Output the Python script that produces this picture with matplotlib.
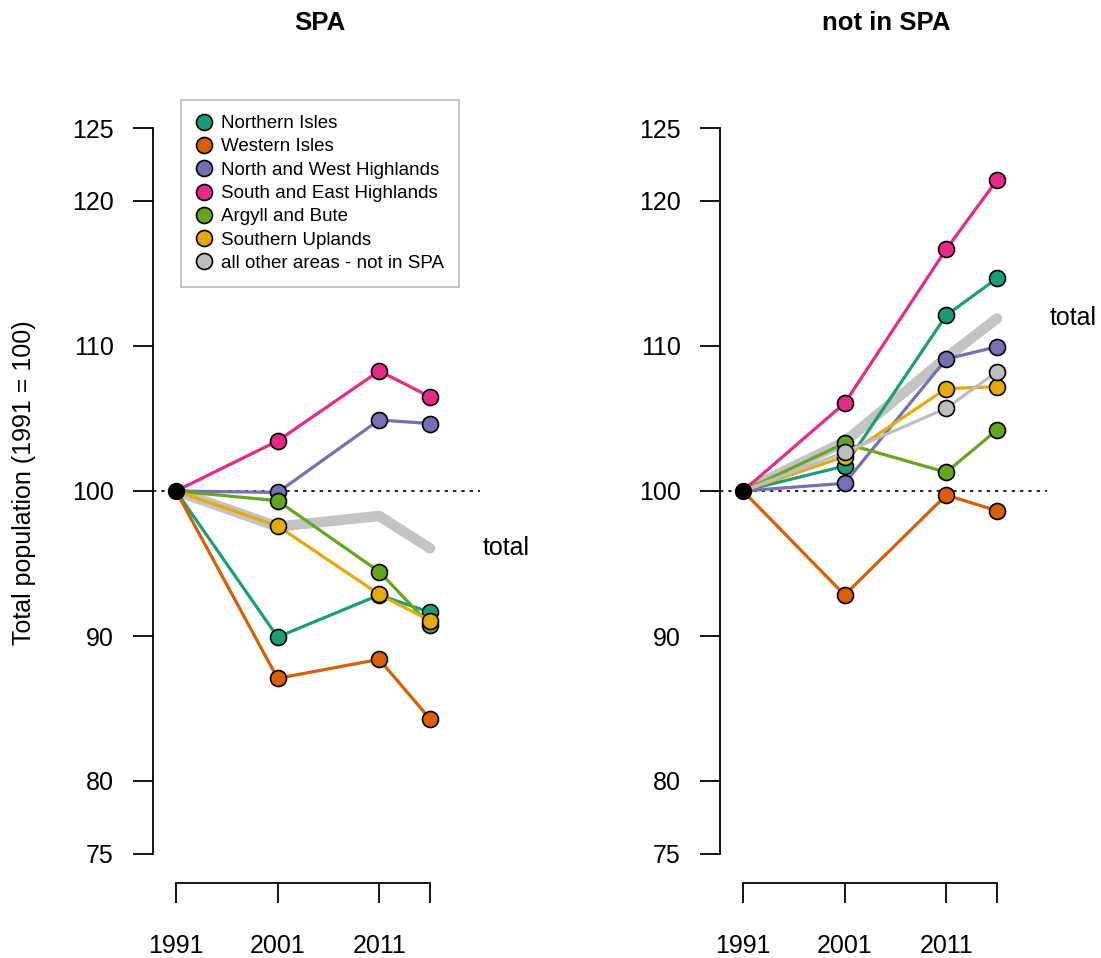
import matplotlib.pyplot as plt
from matplotlib.lines import Line2D

plt.rcParams["font.family"] = ["Liberation Sans", "DejaVu Sans"]

years = [1991, 2001, 2011, 2016]
year_labels = ["1991", "2001", "2011", ""]
areas = ["Northern Isles", "Western Isles", "North and West Highlands",
         "South and East Highlands", "Argyll and Bute", "Southern Uplands",
         "all other areas - not in SPA"]
colors = ["#1B9E77", "#D95F02", "#7570B3", "#E7298A", "#66A61E", "#E6AB02", "#BEBEBE"]

# index 1991 = 100, areas inside the SPA
spa_northern = [100, 89.93, 92.83, 91.63]
spa_western = [100, 87.08, 88.39, 84.28]
spa_nw_high = [100, 99.90, 104.90, 104.65]
spa_se_high = [100, 103.45, 108.28, 106.50]
spa_argyll = [100, 99.33, 94.44, 90.76]
spa_southern = [100, 97.59, 92.87, 91.06]
spa_total = [100, 97.54, 98.28, 96.05]

# areas outside the SPA
out_northern = [100, 101.72, 112.11, 114.67]
out_western = [100, 92.83, 99.72, 98.64]
out_nw_high = [100, 100.53, 109.10, 109.95]
out_se_high = [100, 106.05, 116.67, 121.45]
out_argyll = [100, 103.29, 101.29, 104.21]
out_southern = [100, 102.37, 107.06, 107.20]
out_other = [100, 102.67, 105.70, 108.23]
out_total = [100, 103.40, 109.20, 111.90]

spa_series = [spa_northern, spa_western, spa_nw_high, spa_se_high, spa_argyll, spa_southern]
out_series = [out_northern, out_western, out_nw_high, out_se_high, out_argyll, out_southern, out_other]

W, H = 1101, 958
fig = plt.figure(figsize=(W / 100, H / 100), dpi=100)

def panel(left_px, title, series, total):
    ax = fig.add_axes([left_px / W, 1 - 868 / H, 327 / W, 754 / H])
    ax.set_xlim(1988.736, 2020.92)
    ax.set_ylim(74, 126)
    ax.plot(years, total, color="#C4C4C4", lw=7.5, solid_capstyle="round", zorder=2)
    ax.axhline(100, color="black", lw=1.2, ls=(0, (2, 3)), zorder=1)
    for i, vals in enumerate(series):
        ax.plot(years, vals, color=colors[i], lw=2.3, zorder=3 + i)
        ax.plot(years[1:], vals[1:], "o", ms=11.5, mfc=colors[i], mec="black",
                mew=1.2, zorder=3 + i)
    ax.plot(years[0], 100, "o", ms=11.5, color="black", zorder=20)
    ax.text(2021.2, total[-1], "total", ha="left", va="center", fontsize=18)

    for s in ["top", "right"]:
        ax.spines[s].set_visible(False)
    ax.spines["left"].set_bounds(75, 125)
    ax.spines["bottom"].set_bounds(1991, 2016)
    ax.spines["bottom"].set_position(("outward", 10.8))
    for s in ["left", "bottom"]:
        ax.spines[s].set_linewidth(1.3)
    ax.set_yticks([75, 80, 90, 100, 110, 120, 125])
    ax.set_xticks(years)
    ax.set_xticklabels(year_labels)
    ax.tick_params(axis="y", length=14.4, width=1.3, pad=14, labelsize=18)
    ax.tick_params(axis="x", length=14.4, width=1.3, pad=22, labelsize=18)
    fig.text((left_px + 327 / 2 + 3) / W, 1 - 23 / H, title, ha="center", va="center",
             fontsize=18.5, fontweight="bold")
    return ax

ax1 = panel(153, "SPA", spa_series, spa_total)
ax2 = panel(720, "not in SPA", out_series, out_total)

fig.text(24 / W, 1 - 483 / H, "Total population (1991 = 100)", rotation=90,
         ha="center", va="center", fontsize=18)

handles = [Line2D([], [], ls="none", marker="o", ms=11.5, mfc=c, mec="black", mew=1.2)
           for c in colors]
leg = ax1.legend(handles, areas, loc="upper left",
                 bbox_to_anchor=(181 / W, 1 - 100 / H), bbox_transform=fig.transFigure,
                 borderaxespad=0, fontsize=13.5, frameon=True, fancybox=False,
                 handlelength=0.9, handletextpad=0.45, labelspacing=0.33,
                 borderpad=0.8)
leg.get_frame().set_edgecolor("#AAAAAA")
leg.get_frame().set_linewidth(1.2)

fig.savefig("out.png", dpi=100)
